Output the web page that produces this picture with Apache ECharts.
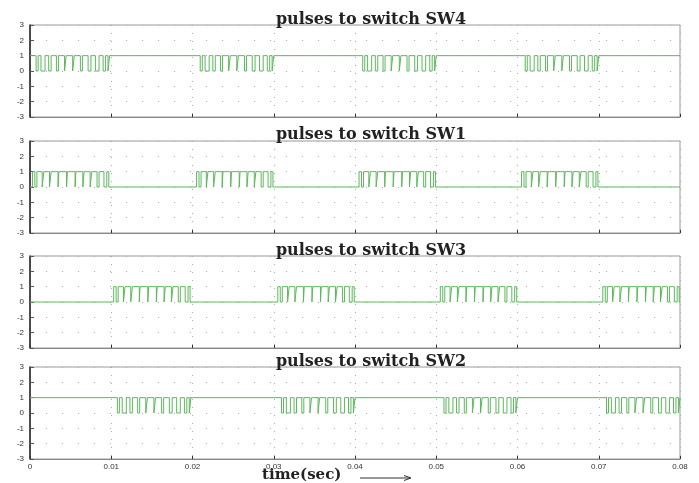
<!DOCTYPE html>
<html>
<head>
<meta charset="utf-8">
<script src="https://cdn.jsdelivr.net/npm/echarts@6/dist/echarts.min.js"></script>
<style>
  html, body { margin: 0; padding: 0; background: #fff; }
  #chart { width: 699px; height: 483px; }
</style>
</head>
<body>
<div id="chart"></div>
<script>
// panel titles, top to bottom
var titles = ['pulses to switch SW4', 'pulses to switch SW1', 'pulses to switch SW3', 'pulses to switch SW2'];
var yTicks = [-3, -2, -1, 0, 1, 2, 3];
var xTicks = [0, 0.01, 0.02, 0.03, 0.04, 0.05, 0.06, 0.07, 0.08];

// start times (s) of the PWM windows
var winA = [0.0003, 0.0205, 0.0405, 0.0605]; // SW4, SW1
var winB = [0.0103, 0.0305, 0.0505, 0.0705]; // SW3, SW2

// level outside the PWM windows
var idleSW4 = 1, idleSW1 = 0, idleSW3 = 0, idleSW2 = 1;

// switching intervals inside a window, in ms from the window start
// SW1 / SW3: high pulses
var pulsesOn = [[0, 0.3], [0.55, 1.2], [1.4, 2.1], [2.3, 3.15], [3.25, 4.2], [4.3, 5.25],
                [5.35, 6.2], [6.35, 7.1], [7.3, 7.95], [8.2, 8.8], [9.15, 9.4]];
// SW4 / SW2: low notches
var notchesOff = [[0.45, 0.7], [1.05, 1.55], [2.0, 2.3], [2.95, 3.2], [3.95, 4.15], [4.95, 5.15],
                  [5.9, 6.15], [6.85, 7.2], [7.75, 8.2], [8.7, 9.0], [9.3, 9.5]];

function build(idle, wins, segs) {
    var pts = [[0, idle]];
    wins.forEach(function (w) {
        segs.forEach(function (s) {
            pts.push([w + s[0] / 1000, 1 - idle]);
            pts.push([w + s[1] / 1000, idle]);
        });
    });
    pts.push([0.08, idle]);
    return pts;
}

var seriesData = [
    build(idleSW4, winA, notchesOff),
    build(idleSW1, winA, pulsesOn),
    build(idleSW3, winB, pulsesOn),
    build(idleSW2, winB, notchesOff)
];

var gridTops = [25, 141, 256, 367];
var titleTops = [7, 122, 238, 349];

var chart = echarts.init(document.getElementById('chart'));

var option = {
    animation: false,
    backgroundColor: '#fff',
    title: [],
    grid: [],
    xAxis: [],
    yAxis: [],
    series: [],
    graphic: [
        {
            type: 'text', left: 262, top: 468,
            style: { text: 'time(sec)', font: 'bold 15px "DejaVu Serif"', fill: '#222' }
        },
        {
            type: 'line', shape: { x1: 360, y1: 478, x2: 410, y2: 478 },
            style: { stroke: '#333', lineWidth: 1 }
        },
        {
            type: 'polyline', shape: { points: [[404, 475.5], [411, 478], [404, 480.5]] },
            style: { stroke: '#333', lineWidth: 1, fill: null }
        }
    ]
};

for (var i = 0; i < 4; i++) {
    option.title.push({
        text: titles[i],
        left: 366, top: titleTops[i], textAlign: 'center',
        textStyle: { fontFamily: 'DejaVu Serif', fontWeight: 'bold', fontSize: 16, color: '#222' }
    });
    option.grid.push({
        left: 30, right: 19, top: gridTops[i], height: 92,
        show: true, borderColor: '#999', borderWidth: 1
    });
    option.xAxis.push({
        type: 'value', gridIndex: i, min: 0, max: 0.08, interval: 0.01,
        axisLine: { show: true, onZero: false, lineStyle: { color: '#888' } },
        axisTick: { show: true, inside: true, length: 3, lineStyle: { color: '#333' } },
        axisLabel: {
            show: i === 3, fontSize: 8, color: '#333', margin: 4,
            formatter: function (v) { return xTicks.indexOf(+v.toFixed(2)) >= 0 ? String(+v.toFixed(2)) : ''; }
        },
        splitLine: { show: true, lineStyle: { color: '#aaa', type: [1, 7], width: 1 } }
    });
    option.yAxis.push({
        type: 'value', gridIndex: i, min: yTicks[0], max: yTicks[yTicks.length - 1], interval: 1,
        axisLine: { show: true, lineStyle: { color: '#222', width: 1.5 } },
        axisTick: { show: true, inside: true, length: 4, lineStyle: { color: '#555' } },
        axisLabel: { fontSize: 8, color: '#333', margin: 6 },
        splitLine: { show: true, lineStyle: { color: '#aaa', type: [1, 15], width: 1 } }
    });
    option.series.push({
        type: 'line', xAxisIndex: i, yAxisIndex: i,
        step: 'end', showSymbol: false, symbol: 'none',
        lineStyle: { color: '#5cb85c', width: 1 },
        data: seriesData[i]
    });
}

chart.setOption(option);
</script>
</body>
</html>
